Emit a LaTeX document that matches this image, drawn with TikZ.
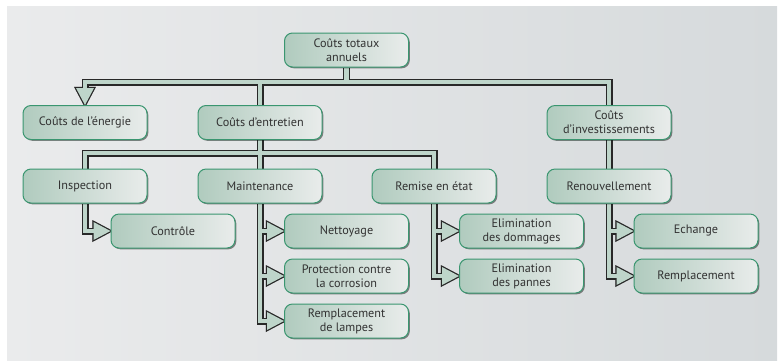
\documentclass[tikz,border=0pt]{standalone}
\usepackage{fontspec}
\setmainfont{PT Sans}
\usetikzlibrary{shadows}

\definecolor{panelL}{RGB}{234,235,236}
\definecolor{panelR}{RGB}{214,218,220}
\definecolor{boxL}{RGB}{176,203,190}
\definecolor{boxR}{RGB}{233,236,235}
\definecolor{boxline}{RGB}{58,150,112}
\definecolor{pipefill}{RGB}{190,213,202}
\definecolor{pipeline}{RGB}{40,40,40}
\definecolor{pipeshadow}{RGB}{150,152,154}
\definecolor{txt}{RGB}{50,50,50}

\pgfdeclarelayer{panel}
\pgfdeclarelayer{pipes}
\pgfsetlayers{panel,pipes,main}

\tikzset{
  box/.style={rounded corners=8pt, draw=boxline, line width=1pt,
    left color=boxL, right color=boxR,
    minimum width=124pt, minimum height=34pt, inner sep=2pt,
    align=center, text=txt, font=\fontsize{12.2}{14}\selectfont,
    drop shadow={shadow xshift=1.3pt, shadow yshift=-1.3pt, opacity=.45, fill=black}},
  pipeshade/.style={line width=7pt, draw=pipeshadow, line join=miter, xshift=1.6pt, yshift=-1.6pt},
  pipeedge/.style={line width=7pt, draw=pipeline, line join=miter},
  pipecore/.style={line width=4.6pt, draw=pipefill, line join=miter},
  headedge/.style={line width=2.4pt, draw=pipeline, line join=miter},
  headshade/.style={line width=2.4pt, draw=pipeshadow, fill=pipeshadow, line join=miter, xshift=1.6pt, yshift=-1.6pt},
  headcore/.style={fill=pipefill},
}

% centre lines of all connecting pipes
\newcommand\pipepaths[1]{%
  \draw[#1] (top.south) -- (top.south |- busL);
  \draw[#1] ([yshift=15pt]energie.north) -- (busL) -- (busR) -- (invest.north);
  \draw[#1] (entretien.north) -- (entretien.north |- busL);
  \draw[#1] (entretien.south) -- (maintenance.north);
  \draw[#1] (inspection.north) -- (busM) -- (remise.north |- busM) -- (remise.north);
  \draw[#1] (invest.south) -- (renouv.north);
  \draw[#1] (inspection.south) |- ([xshift=-15pt]controle.west);
  \draw[#1] (maintenance.south) |- ([xshift=-15pt]lampes.west);
  \draw[#1] (maintenance.south |- nettoyage.west) -- ([xshift=-15pt]nettoyage.west);
  \draw[#1] (maintenance.south |- protection.west) -- ([xshift=-15pt]protection.west);
  \draw[#1] (remise.south) |- ([xshift=-15pt]pannes.west);
  \draw[#1] (remise.south |- dommages.west) -- ([xshift=-15pt]dommages.west);
  \draw[#1] (renouv.south) |- ([xshift=-15pt]remplacement.west);
  \draw[#1] (renouv.south |- echange.west) -- ([xshift=-15pt]echange.west);
}
% hollow arrow heads at the ends of the pipes
\newcommand\rhead[2]{\path[#1] (#2.west) -- ++(-17,-9) -- ++(0,18) -- cycle;}
\newcommand\headpaths[1]{%
  \path[#1] (energie.north) -- ++(-9,-17) -- ++(18,0) -- cycle;
  \rhead{#1}{controle}
  \rhead{#1}{nettoyage}
  \rhead{#1}{protection}
  \rhead{#1}{lampes}
  \rhead{#1}{dommages}
  \rhead{#1}{pannes}
  \rhead{#1}{echange}
  \rhead{#1}{remplacement}
}

\begin{document}
\begin{tikzpicture}[x=1pt,y=-1pt]
\useasboundingbox (0,0) rectangle (784,360);
\begin{pgfonlayer}{panel}
  \shade[left color=panelL, right color=panelR] (7,6) rectangle (777,360);
\end{pgfonlayer}

% boxes
\node[box] (top) at (346.5,50) {Coûts totaux\\annuels};
\node[box] (energie) at (85,122.5) {Coûts de l’énergie};
\node[box] (entretien) at (260,122.5) {Coûts d’entretien};
\node[box] (invest) at (609,122.5) {Coûts\\d’investissements};
\node[box] (inspection) at (85,186) {Inspection};
\node[box] (maintenance) at (260,186) {Maintenance};
\node[box] (remise) at (434,186) {Remise en état};
\node[box] (renouv) at (609,186) {Renouvellement};
\node[box] (controle) at (173,231) {Contrôle};
\node[box] (nettoyage) at (346.5,231) {Nettoyage};
\node[box] (protection) at (346.5,276) {Protection contre\\la corrosion};
\node[box] (lampes) at (346.5,321) {Remplacement\\de lampes};
\node[box] (dommages) at (521.5,231) {Elimination\\des dommages};
\node[box] (pannes) at (521.5,276) {Elimination\\des pannes};
\node[box] (echange) at (696,231) {Echange};
\node[box] (remplacement) at (696,276) {Remplacement};

\coordinate (busL) at (85,82);
\coordinate (busR) at (609,82);
\coordinate (busM) at (85,153);

% pipes: shadow, dark edge, pale core
\begin{pgfonlayer}{pipes}
  \pipepaths{pipeshade}
  \headpaths{headshade}
  \pipepaths{pipeedge}
  \headpaths{headedge}
  \headpaths{headcore}
  \pipepaths{pipecore}
\end{pgfonlayer}
\end{tikzpicture}
\end{document}
